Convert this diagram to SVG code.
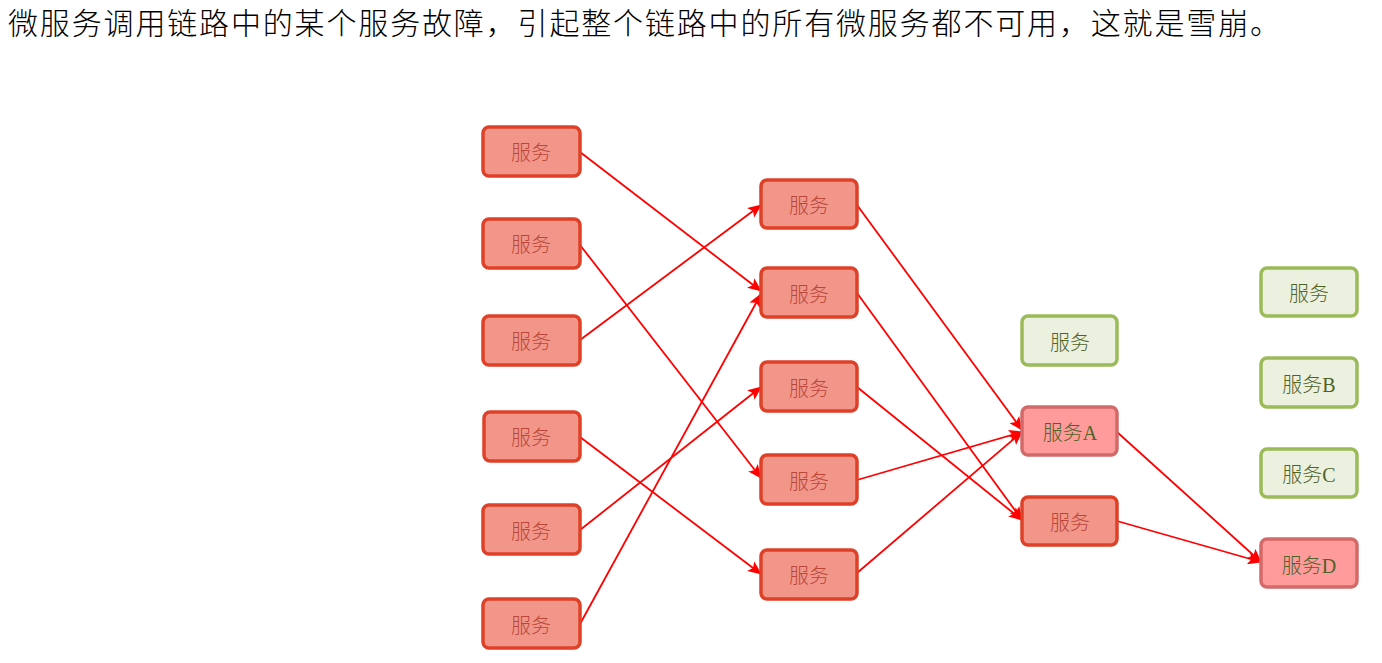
<svg xmlns="http://www.w3.org/2000/svg" width="1382" height="663" viewBox="0 0 1382 663">
<style>
.title{font-family:"Liberation Serif","Noto Sans CJK SC",serif;font-size:30px;fill:#000;font-weight:300}
.t{font-family:"Liberation Serif","Noto Sans CJK SC",serif;font-size:20px;text-anchor:middle;font-weight:300}
.red rect{fill:#f2968a;stroke:#de4128;stroke-width:3.5}
.red text{fill:#b8473a}
.green rect{fill:#ebf1de;stroke:#9bbb59;stroke-width:3.5}
.green text{fill:#4f6228}
.pink rect{fill:#ff9b9b;stroke:#d26a6a;stroke-width:3.5}
.pink text{fill:#4f6228}
.edges line{stroke:#ff0000;stroke-width:1.8;marker-end:url(#ah)}
</style>
<defs>
<marker id="ah" markerWidth="14" markerHeight="12" refX="13" refY="6" orient="auto" markerUnits="userSpaceOnUse">
<path d="M0,0 L14,6 L0,12 L3,6 z" fill="#ff0000"/>
</marker>
</defs>
<rect width="1382" height="663" fill="#fff"/>
<text class="title" x="8" y="34" textLength="1272" lengthAdjust="spacing">微服务调用链路中的某个服务故障，引起整个链路中的所有微服务都不可用，这就是雪崩。</text>

<g class="edges">
<line x1="580" y1="152" x2="761" y2="291"/>
<line x1="580" y1="245" x2="761" y2="478"/>
<line x1="580" y1="340" x2="761" y2="205"/>
<line x1="580" y1="437" x2="761" y2="574"/>
<line x1="580" y1="530" x2="761" y2="387"/>
<line x1="580" y1="624" x2="761" y2="294"/>
<line x1="857" y1="205" x2="1022" y2="430"/>
<line x1="857" y1="293" x2="1022" y2="520"/>
<line x1="857" y1="387" x2="1022" y2="520"/>
<line x1="857" y1="480" x2="1022" y2="432"/>
<line x1="857" y1="573" x2="1022" y2="432"/>
<line x1="1117" y1="432" x2="1261" y2="562"/>
<line x1="1117" y1="521" x2="1261" y2="562"/>
</g>

<g id="c1n1" class="red"><rect x="483" y="127" width="97" height="49" rx="6"/><text class="t" x="531" y="160">服务</text></g>
<g id="c1n2" class="red"><rect x="483" y="219" width="97" height="49" rx="6"/><text class="t" x="531" y="252">服务</text></g>
<g id="c1n3" class="red"><rect x="483" y="316" width="97" height="49" rx="6"/><text class="t" x="531" y="349">服务</text></g>
<g id="c1n4" class="red"><rect x="484" y="412" width="96" height="49" rx="6"/><text class="t" x="531" y="445">服务</text></g>
<g id="c1n5" class="red"><rect x="483" y="505" width="97" height="49" rx="6"/><text class="t" x="531" y="539">服务</text></g>
<g id="c1n6" class="red"><rect x="483" y="599" width="97" height="49" rx="6"/><text class="t" x="531" y="633">服务</text></g>

<g id="c2n1" class="red"><rect x="761" y="180" width="96" height="48" rx="6"/><text class="t" x="809" y="213">服务</text></g>
<g id="c2n2" class="red"><rect x="761" y="268" width="96" height="49" rx="6"/><text class="t" x="809" y="302">服务</text></g>
<g id="c2n3" class="red"><rect x="761" y="362" width="96" height="49" rx="6"/><text class="t" x="809" y="396">服务</text></g>
<g id="c2n4" class="red"><rect x="761" y="455" width="96" height="49" rx="6"/><text class="t" x="809" y="489">服务</text></g>
<g id="c2n5" class="red"><rect x="761" y="550" width="96" height="49" rx="6"/><text class="t" x="809" y="583">服务</text></g>

<g id="c3n1" class="green"><rect x="1022" y="316" width="95" height="49" rx="6"/><text class="t" x="1070" y="350">服务</text></g>
<g id="c3A" class="pink"><rect x="1022" y="407" width="95" height="48" rx="6"/><text class="t" x="1070" y="440">服务A</text></g>
<g id="c3n3" class="red"><rect x="1022" y="497" width="95" height="48" rx="6"/><text class="t" x="1070" y="530">服务</text></g>

<g id="c4n1" class="green"><rect x="1261" y="268" width="96" height="48" rx="6"/><text class="t" x="1309" y="301">服务</text></g>
<g id="c4B" class="green"><rect x="1261" y="358" width="96" height="49" rx="6"/><text class="t" x="1309" y="392">服务B</text></g>
<g id="c4C" class="green"><rect x="1261" y="449" width="96" height="48" rx="6"/><text class="t" x="1309" y="482">服务C</text></g>
<g id="c4D" class="pink"><rect x="1261" y="539" width="96" height="48" rx="6"/><text class="t" x="1309" y="573">服务D</text></g>
</svg>
